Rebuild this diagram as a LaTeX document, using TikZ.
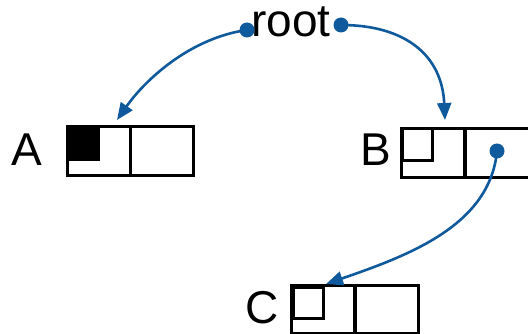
\documentclass[tikz,border=0pt]{standalone}
\usepackage{fontspec}
\setmainfont{Liberation Sans}
\usetikzlibrary{arrows.meta}
\definecolor{lnk}{HTML}{0F5A9C}
\tikzset{
  cell/.style={draw=black, line width=2.8pt, minimum width=63pt, minimum height=49pt, inner sep=0pt, anchor=north west},
  marker/.style={draw=black, line width=2.8pt, minimum width=30pt, minimum height=32pt, inner sep=0pt, anchor=north west},
  lbl/.style={font=\fontsize{46}{46}\selectfont, anchor=base, inner sep=0pt},
  ptr/.style={draw=lnk, line width=2.6pt, -{Triangle[length=17pt,width=14pt]}},
  dot/.style={fill=lnk}
}
\begin{document}
\begin{tikzpicture}[x=1pt,y=-1pt]
\useasboundingbox (0,0) rectangle (528,334);
\clip (0,0) rectangle (528,334);
% A
\node[cell] (Al) at (66,125) {};
\node[cell] (Ar) at (129,125) {};
\node[marker, fill=black] (Am) at (67,126) {};
\node[lbl] (Alab) at (27,166) {A};
% B
\node[cell] (Bl) at (400,127) {};
\node[cell, minimum width=90pt] (Br) at (464,127) {};
\node[marker] (Bm) at (401,127) {};
\node[lbl] (Blab) at (376,166) {B};
% C
\node[cell, minimum height=48pt] (Cl) at (290,284) {};
\node[cell, minimum height=48pt] (Cr) at (354,284) {};
\node[marker, minimum height=31pt] (Cm) at (292,286) {};
\node[lbl] (Clab) at (262,323) {C};
% root
\node[lbl] (root) at (291,37) {root};
\coordinate (rL) at (247,30);
\coordinate (rR) at (341,25);
\coordinate (bp) at (497,151);
\coordinate (Ain) at (117,120);
\coordinate (Bin) at (445,120);
\coordinate (Cin) at (326,284);
\draw[ptr] (rL) .. controls (190,38) and (145,80) .. (Ain);
\draw[ptr] (rR) .. controls (405,25) and (442,55) .. (Bin);
\draw[ptr] (bp) .. controls (490,225) and (410,255) .. (Cin);
\fill[dot] (rL) circle (7.5);
\fill[dot] (rR) circle (7.5);
\fill[dot] (bp) circle (7.5);
\end{tikzpicture}
\end{document}
